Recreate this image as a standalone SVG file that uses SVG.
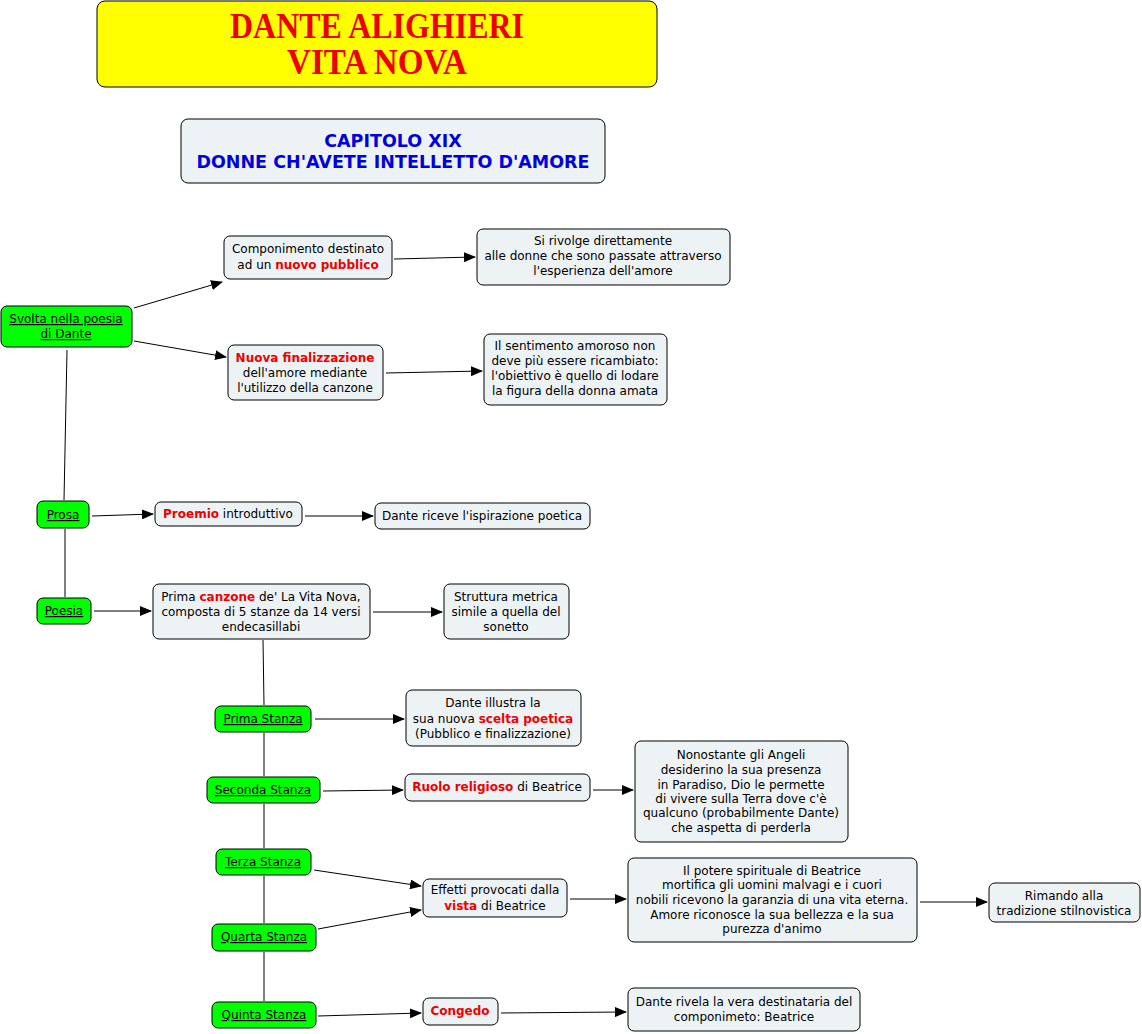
<svg xmlns="http://www.w3.org/2000/svg" width="1142" height="1034" viewBox="0 0 1142 1034">
<style>
.n{fill:#edf2f5;stroke:#000;stroke-width:1}
.g{fill:#00ff00;stroke:#000;stroke-width:1}
text{font-family:"DejaVu Sans",Verdana,sans-serif;font-size:12px;fill:#000;text-anchor:middle}
.r{fill:#ee0000;font-weight:bold}
.u{text-decoration:underline}
.c{stroke:#000;stroke-width:1;fill:none}
.a{marker-end:url(#ah)}
.t{font-family:"Liberation Serif",serif;font-size:35px;font-weight:bold;fill:#ee0000}
.s{font-size:17.5px;font-weight:bold;fill:#0000dd}
</style>
<defs>
<marker id="ah" markerWidth="12" markerHeight="10" refX="11" refY="5" orient="auto" markerUnits="userSpaceOnUse">
<path d="M0,0 L12,5 L0,10 Z" fill="#000"/>
</marker>
</defs>
<rect width="1142" height="1034" fill="#fff"/>
<g id="connectors">
<line class="c a" x1="134" y1="308" x2="222" y2="282"/>
<line class="c a" x1="134" y1="341" x2="226" y2="357"/>
<line class="c a" x1="394" y1="259" x2="475" y2="257"/>
<line class="c a" x1="386" y1="373" x2="482" y2="371"/>
<line class="c" x1="67" y1="350" x2="64" y2="500"/>
<line class="c a" x1="92" y1="516" x2="153" y2="514"/>
<line class="c a" x1="305" y1="516" x2="373" y2="516"/>
<line class="c" x1="65" y1="529" x2="65" y2="597"/>
<line class="c a" x1="94" y1="611" x2="151" y2="611"/>
<line class="c a" x1="373" y1="612" x2="442" y2="612"/>
<line class="c" x1="263" y1="640" x2="264" y2="705"/>
<line class="c a" x1="315" y1="719" x2="404" y2="719"/>
<line class="c" x1="264" y1="733" x2="264" y2="776"/>
<line class="c a" x1="323" y1="791" x2="403" y2="790"/>
<line class="c a" x1="593" y1="790" x2="633" y2="790"/>
<line class="c" x1="264" y1="804" x2="264" y2="848"/>
<line class="c a" x1="314" y1="870" x2="421" y2="886"/>
<line class="c a" x1="318" y1="929" x2="421" y2="910"/>
<line class="c a" x1="570" y1="899" x2="626" y2="899"/>
<line class="c a" x1="920" y1="902" x2="987" y2="902"/>
<line class="c" x1="264" y1="876" x2="264" y2="923"/>
<line class="c" x1="264" y1="952" x2="264" y2="1001"/>
<line class="c a" x1="318" y1="1016" x2="421" y2="1013"/>
<line class="c a" x1="501" y1="1013" x2="626" y2="1012"/>
</g>
<g id="title">
<rect x="97" y="1" width="560" height="86" rx="8" fill="#ffff00" stroke="#000"/>
<text class="t" x="377" y="38" textLength="294" lengthAdjust="spacingAndGlyphs">DANTE ALIGHIERI</text>
<text class="t" x="377" y="74" textLength="180" lengthAdjust="spacingAndGlyphs">VITA NOVA</text>
</g>
<g id="capitolo">
<rect class="n" x="181" y="119" width="424" height="64" rx="7"/>
<text class="s" x="393" y="147">CAPITOLO XIX</text>
<text class="s" x="393" y="168">DONNE CH'AVETE INTELLETTO D'AMORE</text>
</g>
<g id="componimento">
<rect class="n" x="224" y="236" width="168" height="43" rx="6"/>
<text x="308" y="253">Componimento destinato</text>
<text x="308" y="269">ad un <tspan class="r">nuovo pubblico</tspan></text>
</g>
<g id="rivolge">
<rect class="n" x="477" y="229" width="253" height="56" rx="6"/>
<text x="603" y="245">Si rivolge direttamente</text>
<text x="603" y="260">alle donne che sono passate attraverso</text>
<text x="603" y="275">l'esperienza dell'amore</text>
</g>
<g id="svolta">
<rect class="g" x="1" y="306" width="131" height="41" rx="6"/>
<text class="u" x="66" y="323">Svolta nella poesia</text>
<text class="u" x="66" y="338">di Dante</text>
</g>
<g id="nuova">
<rect class="n" x="228" y="345" width="155" height="55" rx="6"/>
<text x="305" y="362" class="r">Nuova finalizzazione</text>
<text x="305" y="377">dell'amore mediante</text>
<text x="305" y="392">l'utilizzo della canzone</text>
</g>
<g id="sentimento">
<rect class="n" x="484" y="334" width="183" height="71" rx="6"/>
<text x="575" y="350">Il sentimento amoroso non</text>
<text x="575" y="365">deve più essere ricambiato:</text>
<text x="575" y="380">l'obiettivo è quello di lodare</text>
<text x="575" y="395">la figura della donna amata</text>
</g>
<g id="prosa">
<rect class="g" x="37" y="501" width="52" height="27" rx="6"/>
<text class="u" x="63" y="519">Prosa</text>
</g>
<g id="proemio">
<rect class="n" x="155" y="502" width="147" height="24" rx="6"/>
<text x="228" y="518"><tspan class="r">Proemio</tspan> introduttivo</text>
</g>
<g id="ispirazione">
<rect class="n" x="375" y="503" width="215" height="26" rx="6"/>
<text x="482" y="520">Dante riceve l'ispirazione poetica</text>
</g>
<g id="poesia">
<rect class="g" x="37" y="598" width="54" height="26" rx="6"/>
<text class="u" x="64" y="615">Poesia</text>
</g>
<g id="canzone">
<rect class="n" x="153" y="584" width="217" height="55" rx="6"/>
<text x="261" y="601">Prima <tspan class="r">canzone</tspan> de' La Vita Nova,</text>
<text x="261" y="616">composta di 5 stanze da 14 versi</text>
<text x="261" y="631">endecasillabi</text>
</g>
<g id="struttura">
<rect class="n" x="444" y="584" width="125" height="55" rx="6"/>
<text x="506" y="601">Struttura metrica</text>
<text x="506" y="616">simile a quella del</text>
<text x="506" y="631">sonetto</text>
</g>
<g id="prima">
<rect class="g" x="215" y="706" width="96" height="26" rx="6"/>
<text class="u" x="263" y="723">Prima Stanza</text>
</g>
<g id="illustra">
<rect class="n" x="406" y="690" width="175" height="56" rx="6"/>
<text x="493" y="707">Dante illustra la</text>
<text x="493" y="723">sua nuova <tspan class="r">scelta poetica</tspan></text>
<text x="493" y="738">(Pubblico e finalizzazione)</text>
</g>
<g id="seconda">
<rect class="g" x="207" y="777" width="113" height="26" rx="6"/>
<text class="u" x="263" y="794">Seconda Stanza</text>
</g>
<g id="ruolo">
<rect class="n" x="405" y="774" width="185" height="27" rx="6"/>
<text x="497" y="791"><tspan class="r">Ruolo religioso</tspan> di Beatrice</text>
</g>
<g id="nonostante">
<rect class="n" x="635" y="741" width="213" height="101" rx="6"/>
<text x="741" y="759">Nonostante gli Angeli</text>
<text x="741" y="774">desiderino la sua presenza</text>
<text x="741" y="789">in Paradiso, Dio le permette</text>
<text x="741" y="803">di vivere sulla Terra dove c'è</text>
<text x="741" y="817">qualcuno (probabilmente Dante)</text>
<text x="741" y="832">che aspetta di perderla</text>
</g>
<g id="terza">
<rect class="g" x="216" y="849" width="95" height="26" rx="6"/>
<text class="u" x="263" y="866">Terza Stanza</text>
</g>
<g id="effetti">
<rect class="n" x="423" y="879" width="144" height="38" rx="6"/>
<text x="495" y="894">Effetti provocati dalla</text>
<text x="495" y="910"><tspan class="r">vista</tspan> di Beatrice</text>
</g>
<g id="potere">
<rect class="n" x="628" y="858" width="289" height="84" rx="6"/>
<text x="772" y="875">Il potere spirituale di Beatrice</text>
<text x="772" y="889">mortifica gli uomini malvagi e i cuori</text>
<text x="772" y="904">nobili ricevono la garanzia di una vita eterna.</text>
<text x="772" y="919">Amore riconosce la sua bellezza e la sua</text>
<text x="772" y="933">purezza d'animo</text>
</g>
<g id="rimando">
<rect class="n" x="989" y="883" width="151" height="39" rx="6"/>
<text x="1064" y="900">Rimando alla</text>
<text x="1064" y="915">tradizione stilnovistica</text>
</g>
<g id="quarta">
<rect class="g" x="212" y="924" width="104" height="27" rx="6"/>
<text class="u" x="264" y="941">Quarta Stanza</text>
</g>
<g id="quinta">
<rect class="g" x="212" y="1002" width="104" height="26" rx="6"/>
<text class="u" x="264" y="1019">Quinta Stanza</text>
</g>
<g id="congedo">
<rect class="n" x="423" y="998" width="75" height="27" rx="6"/>
<text x="460" y="1015" class="r">Congedo</text>
</g>
<g id="rivela">
<rect class="n" x="628" y="988" width="232" height="43" rx="6"/>
<text x="744" y="1006">Dante rivela la vera destinataria del</text>
<text x="744" y="1021">componimeto: Beatrice</text>
</g>
</svg>
